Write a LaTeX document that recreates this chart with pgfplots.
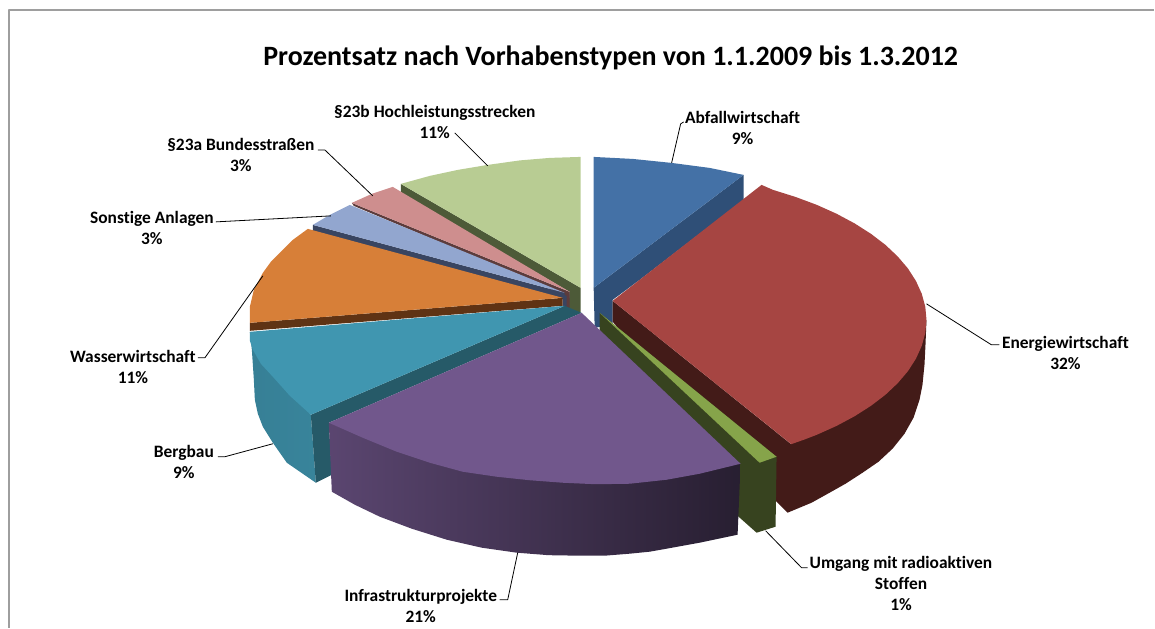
\documentclass[border=0pt]{standalone}
\usepackage{pgfplots}
\pgfplotsset{compat=1.18}
\usepackage{fontspec}
\setmainfont[Ligatures=NoCommon]{Carlito}
\definecolor{blueT}{HTML}{4471A6}
\definecolor{blueS}{HTML}{2F4F77}
\definecolor{redT}{HTML}{A64542}
\definecolor{redS}{HTML}{431B18}
\definecolor{grnT}{HTML}{86A44A}
\definecolor{grnS}{HTML}{37431F}
\definecolor{purT}{HTML}{71578C}
\definecolor{tealT}{HTML}{4096B0}
\definecolor{tealS}{HTML}{265A68}
\definecolor{oraT}{HTML}{D77F38}
\definecolor{oraS}{HTML}{5F3314}
\definecolor{perT}{HTML}{92A6CF}
\definecolor{perS}{HTML}{394561}
\definecolor{pinT}{HTML}{CE8E8E}
\definecolor{pinS}{HTML}{5C3C3C}
\definecolor{limT}{HTML}{B8CC93}
\definecolor{limS}{HTML}{4D5A38}
\tikzset{lab/.style={font=\bfseries\fontsize{17.4}{21}\selectfont, align=center, text=black, inner sep=0pt, anchor=center}}
\begin{document}
\begin{tikzpicture}
\begin{axis}[
  scale only axis, width=1155pt, height=628pt,
  xmin=0, xmax=1155, ymin=0, ymax=628, y dir=reverse,
  hide axis, clip=false,
  every axis plot/.append style={no markers, line join=round},
]
% full page extent
\addplot[draw=none] coordinates {(0,0)(1155,628)};
% frame
\addplot[draw=black!38, line width=1.3pt] coordinates {(9,628)(9,10)(1155,10)};
% blue
\addplot[draw=none,fill=blueS] coordinates {(594,288)(744,175)(744,200)(640,280)(613,300)(613,325)(595,328)};
\addplot[draw=none,fill=blueT] coordinates {(594,157)(633,159)(672,163)(710,168)(744,175)(594,288)};
% red
\addplot[draw=none,fill=redS] coordinates {(613,301)(791,444)(927,320)(926,345)(925,365)(923,385)(920,400)(914,418)(905,434)(893,449)(879,462)(863,473)(846,484)(830,493)(812,503)(800,508)(788,513)(777,502)(613,322)};
\addplot[draw=none,fill=redT] coordinates {(613,301)(762,185)(773.5,190)(796.1,197.1)(817.3,205)(837.1,213.9)(855.2,223.6)(871.5,234)(885.9,245)(898.2,256.6)(908.5,268.7)(916.5,281.2)(922.3,294)(925.8,306.9)(927,320)(925.8,333.1)(922.3,346)(916.5,358.8)(908.5,371.3)(898.2,383.4)(885.9,395)(871.5,406)(855.2,416.4)(837.1,426.1)(817.3,435)(804.8,439.8)(791.7,444.4)};
% green
\addplot[draw=none,fill=grnS] coordinates {(600,313)(777,457)(776,527)(757,533)(739,517)(600,400)};
\addplot[draw=none,fill=grnT] coordinates {(600,313)(777,457)(760,463)};
% centre column
\addplot[draw=none,fill=perS] coordinates {(563,296)(570,292)(570,318)(563,318)};
% lime
\addplot[draw=none,fill=limS] coordinates {(401,184)(581,288)(581,312)(568,318)(570,292)(401,194)};
\addplot[draw=none,fill=limT] coordinates {(401,184)(430,176)(458,170)(488,165)(520,160.5)(550,158)(581,157)(581,288)};
% pink
\addplot[draw=none,fill=pinS] coordinates {(352,203)(570,292)(570,318)(567,318)(567,296)(354,206)};
\addplot[draw=none,fill=pinT] coordinates {(352,203)(372,194)(393,187)(570,292)};
% periwinkle
\addplot[draw=none,fill=perS] coordinates {(313,225)(565,293)(565,300)(313,231)};
\addplot[draw=none,fill=perT] coordinates {(313,225)(330,215)(350,205)(565,293)};
% orange
\addplot[draw=none,fill=oraS] coordinates {(250,323)(563,298)(563,306)(250,331)};
\addplot[draw=none,fill=oraT] coordinates {(250,323)(250,307)(254,290)(263,273)(271,262)(280,253)(293,240)(308,229)(563,298)};
% teal
\addplot[draw=none, left color=tealT!85!black, right color=tealT!88!black] coordinates {(250,332)(252,350)(253,365)(254,380)(255,400)(258,414)(263,427)(273,443)(287,463)(316,483)(311,415)};
\addplot[draw=none,fill=tealS] coordinates {(311,415)(565,306)(582,313)(329,423)(332,475)(316,483)};
\addplot[draw=none,fill=tealT] coordinates {(250,332)(250,341)(253,350)(261,364)(273,377)(290,396)(311,415)(565,306)};
% purple
\addplot[draw=none, left color=purT!80!black, middle color=purT!55!black, right color=purT!35!black] coordinates {(329,423)(332,492)(355,505)(380,517)(412,529)(447,540)(482,548)(517,553)(549,555.5)(580,556)(605,556)(630,554)(650,552)(667,549)(700,543)(738,535)(741,464)};
\addplot[draw=none,fill=purT] coordinates {(582,313)(741,464)(700,474)(667,480)(630,484)(596,484.5)(563,483)(530,480.5)(497,477)(463,472)(430,463)(397,452)(363,438)(329,423)};
% leaders
\addplot[draw=black,line width=0.8pt] coordinates {(672,163)(681,124)(684,122)};
\addplot[draw=black,line width=0.8pt] coordinates {(927,304)(992,345)(1000,345)};
\addplot[draw=black,line width=0.8pt] coordinates {(766,531)(802,568)(808,568)};
\addplot[draw=black,line width=0.8pt] coordinates {(518,553)(508,600)(500,600)};
\addplot[draw=black,line width=0.8pt] coordinates {(273,444)(225,457)(218,457)};
\addplot[draw=black,line width=0.8pt] coordinates {(263,276)(205,358)(198,358)};
\addplot[draw=black,line width=0.8pt] coordinates {(331,216)(216,222)};
\addplot[draw=black,line width=0.8pt] coordinates {(373,196)(325,150)(318,150)};
\addplot[draw=black,line width=0.8pt] coordinates {(488,166)(455,133)};
% text
\node[font=\bfseries\fontsize{28}{32}\selectfont, inner sep=0pt] at (axis cs:611,58) {Prozentsatz nach Vorhabenstypen von 1.1.2009 bis 1.3.2012};
\node[lab] at (axis cs:743,128) {Abfallwirtschaft\\9\%};
\node[lab] at (axis cs:1066,353) {Energiewirtschaft\\32\%};
\node[lab] at (axis cs:901.5,584) {Umgang mit radioaktiven\\Stoffen\\1\%};
\node[lab] at (axis cs:421,606) {Infrastrukturprojekte\\21\%};
\node[lab] at (axis cs:184,462) {Bergbau\\9\%};
\node[lab] at (axis cs:133,367) {Wasserwirtschaft\\11\%};
\node[lab] at (axis cs:152,228) {Sonstige Anlagen\\3\%};
\node[lab] at (axis cs:241,155) {§23a Bundesstraßen\\3\%};
\node[lab] at (axis cs:435,122) {§23b Hochleistungsstrecken\\11\%};
\end{axis}
\end{tikzpicture}
\end{document}
